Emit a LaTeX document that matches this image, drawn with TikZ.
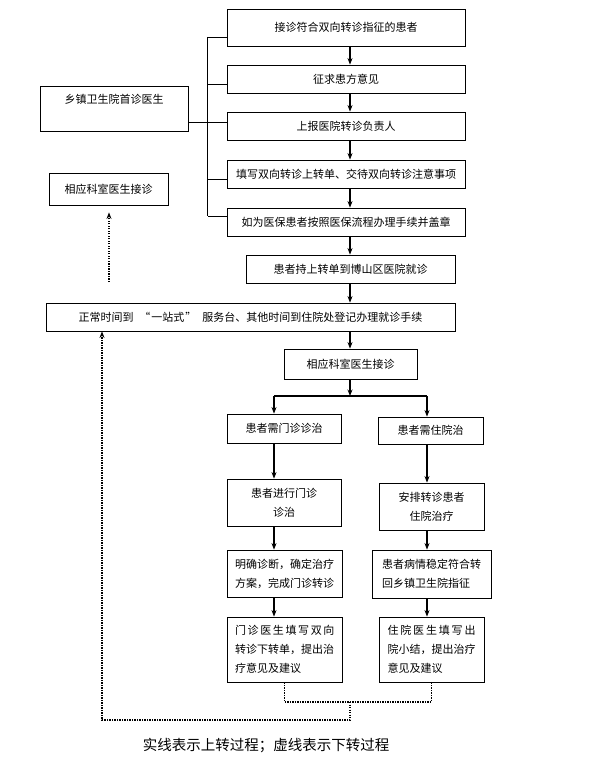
\documentclass[tikz,border=0pt]{standalone}
\usepackage{fontspec}
\setmainfont{Noto Sans CJK SC}
\usetikzlibrary{arrows.meta}

\newcommand{\spreadline}[2]{\makebox[#1][s]{#2}}

\begin{document}
\begin{tikzpicture}[
    x=1pt, y=-1pt,
    box/.style={draw, line width=0.8pt, inner sep=2pt, align=center,
        font=\fontsize{11}{19}\selectfont},
    flow/.style={-{Stealth[length=6.5pt,width=5pt]}, line width=1.1pt},
    dotline/.style={line width=1.1pt, dash pattern=on 1.2pt off 1.3pt},
    back/.style={dotline, -{Stealth[length=6.5pt,width=5pt]}},
    bus/.style={line width=0.9pt}
]
\useasboundingbox (0,0) rectangle (590,775);

\node[box, minimum width=238pt, minimum height=37pt] (intake) at (346,27.5) {接诊符合双向转诊指征的患者};
\node[box, minimum width=238pt, minimum height=28pt] (consult) at (346,79) {征求患方意见};
\node[box, minimum width=238pt, minimum height=28pt] (report) at (346,126) {上报医院转诊负责人};
\node[box, minimum width=238pt, minimum height=28pt] (fillform) at (346,174) {填写双向转诊上转单、交待双向转诊注意事项};
\node[box, minimum width=238pt, minimum height=28pt] (insured) at (346,222) {如为医保患者按照医保流程办理手续并盖章};
\node[box, minimum width=148pt, minimum height=45pt] (firstdoc) at (114,108.5) {乡镇卫生院首诊医生\\[-5pt] \strut};
\node[box, minimum width=119pt, minimum height=32pt] (receivedoc) at (108.5,189) {相应科室医生接诊};
\node[box, minimum width=209pt, minimum height=28pt] (arrive) at (350.5,269) {患者持上转单到博山区医院就诊};
\node[box, minimum width=409pt, minimum height=28pt] (register) at (250.5,317)
    {正常时间到\hspace{6pt}“\hspace{1pt}一站式\hspace{1pt}”\hspace{6pt}服务台、其他时间到住院处登记办理就诊手续};
\node[box, minimum width=133pt, minimum height=30pt] (dept) at (350.5,364) {相应科室医生接诊};

\node[box, minimum width=114pt, minimum height=29pt] (needclinic) at (284,428.5) {患者需门诊诊治};
\node[box, minimum width=105pt, minimum height=27pt] (needward) at (430.5,430.5) {患者需住院治};
\node[box, minimum width=114pt, minimum height=47pt] (clinicvisit) at (284,502.5) {患者进行门诊\\诊治};
\node[box, minimum width=105pt, minimum height=47pt] (wardcare) at (431.5,506.5) {安排转诊患者\\住院治疗};
\node[box, align=left, minimum width=115pt, minimum height=47pt] (diagnose) at (284.5,573.5) {明确诊断，确定治疗\\方案，完成门诊转诊};
\node[box, align=left, minimum width=119pt, minimum height=48pt] (stable) at (431.5,574) {患者病情稳定符合转\\回乡镇卫生院指征};
\node[box, align=left, minimum width=115pt, minimum height=65pt] (clinicdown) at (284.5,649.5)
    {\spreadline{9em}{门 诊 医 生 填 写 双 向}\\转诊下转单，提出治\\疗意见及建议};
\node[box, align=left, minimum width=105pt, minimum height=65pt] (warddown) at (431.5,649.5)
    {\spreadline{8em}{住 院 医 生 填 写 出}\\院小结，提出治疗\\意见及建议};

\node[font=\fontsize{14.5}{17}\selectfont] (caption) at (266,746) {实线表示上转过程；虚线表示下转过程};

\coordinate (axis) at (350,0);
\coordinate (branch) at (350,396);
\coordinate (leftcol) at (274,0);
\coordinate (rightcol) at (427,0);
\coordinate (backstart) at (109,282);
\coordinate (merge) at (350,702);
\coordinate (loopcorner) at (102,720);

\draw[bus] ([xshift=-19pt,yshift=-9.5pt]intake.west) -- ([xshift=-19pt,yshift=6pt]insured.west);
\foreach \n/\s in {intake/-9.5, consult/-5, fillform/-5, insured/6}
    \draw[bus] ([yshift=\s pt]\n.west) -- ++(-19pt,0);
\draw[bus] ([yshift=-13.5pt]firstdoc.east) -- ([yshift=4pt]report.west);

\foreach \a/\b in {intake/consult, consult/report, report/fillform, fillform/insured, insured/arrive, arrive/register, register/dept}
    \draw[flow] (\a.south -| axis) -- (\b.north -| axis);
\draw[flow] (dept.south -| axis) -- (branch);
\draw[line width=2pt] (leftcol |- branch) -- (rightcol |- branch);
\draw[flow] (leftcol |- branch) -- (leftcol |- needclinic.north);
\draw[flow] (rightcol |- branch) -- (rightcol |- needward.north);

\foreach \a/\b in {needclinic/clinicvisit, clinicvisit/diagnose, diagnose/clinicdown}
    \draw[flow] (leftcol |- \a.south) -- (leftcol |- \b.north);
\foreach \a/\b in {needward/wardcare, wardcare/stable, stable/warddown}
    \draw[flow] (rightcol |- \a.south) -- (rightcol |- \b.north);

\draw[dotline] (clinicdown.south) |- (merge) -| (warddown.south);
\draw[back] (merge) |- (loopcorner) -- (loopcorner |- register.south);
\draw[back, shorten >=7pt] (backstart) -- (backstart |- receivedoc.south);
\end{tikzpicture}
\end{document}
